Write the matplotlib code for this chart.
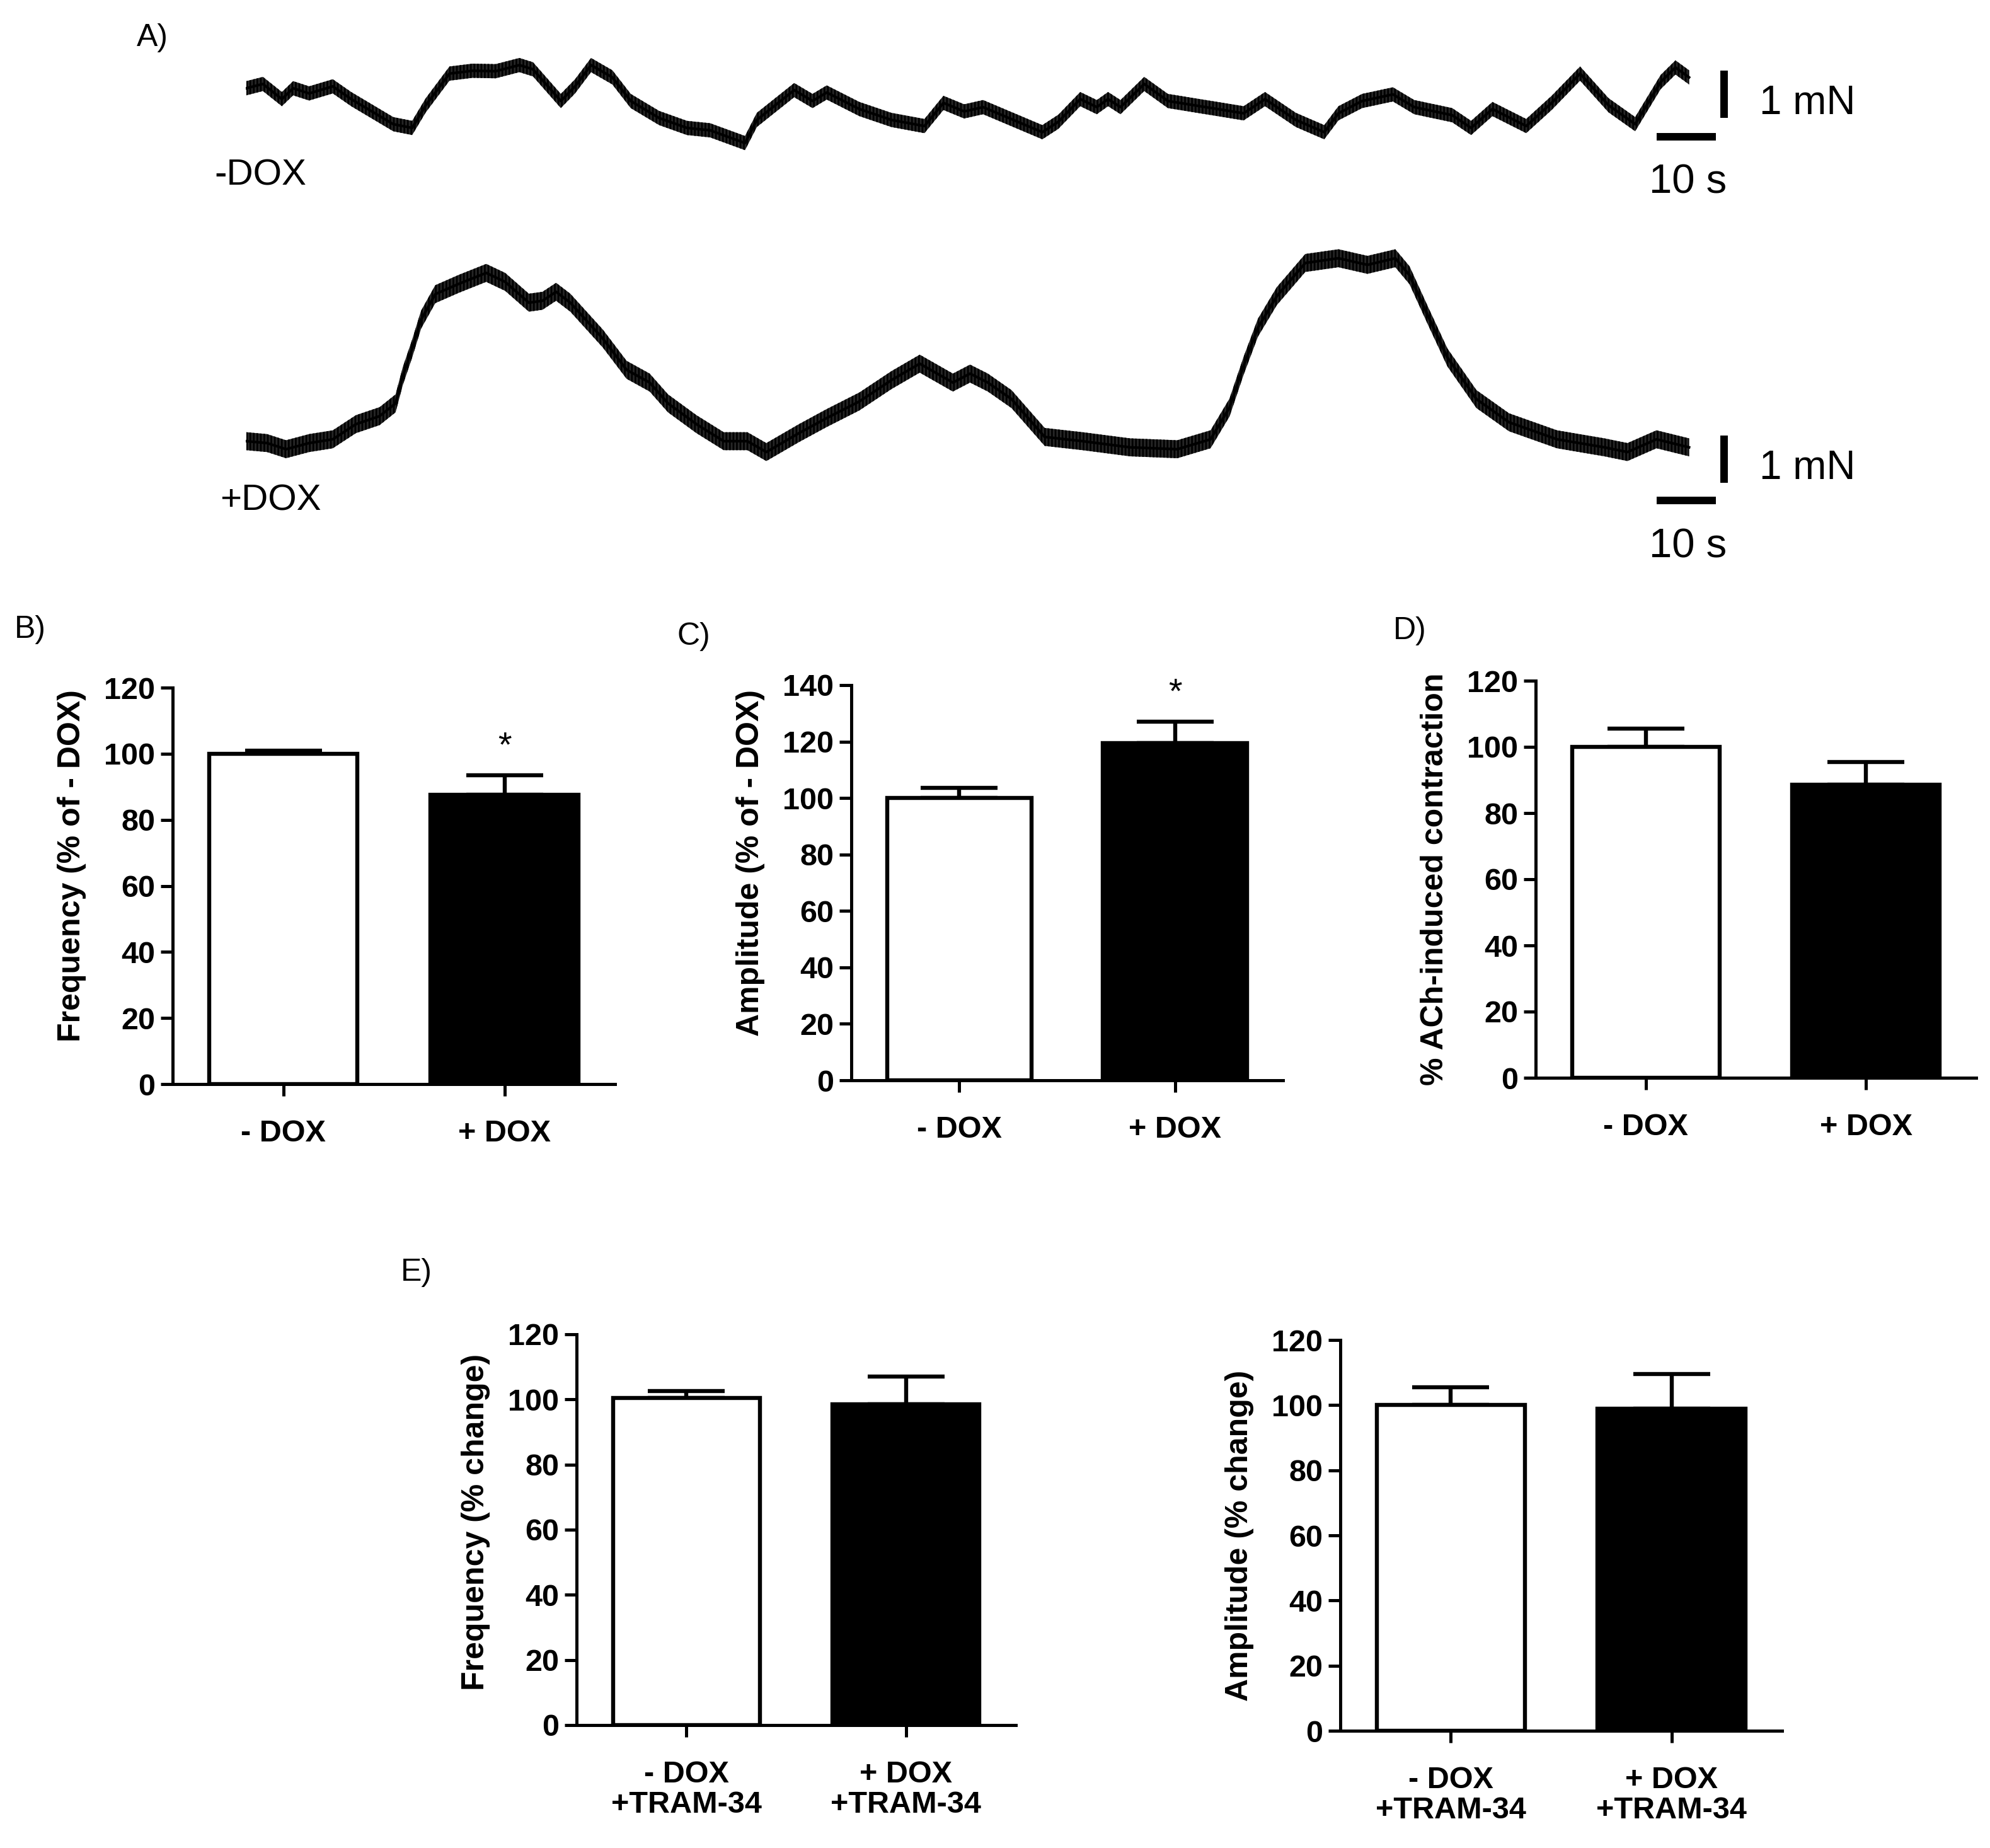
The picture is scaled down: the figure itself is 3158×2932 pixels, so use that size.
import numpy as np
import matplotlib
matplotlib.use("Agg")
import matplotlib.pyplot as plt

plt.rcParams["font.family"] = ["Liberation Sans", "DejaVu Sans"]

# --- panel A: force traces (time in s, force in mN) ---
minus_dox_t = [0.1, 2.9, 6.1, 8.0, 10.7, 14.7, 17.8, 24.9, 28.1, 30.4, 34.4, 38.3, 42.2, 46.2,
               48.5, 53.2, 55.6, 58.3, 61.9, 65.0, 69.8, 74.5, 78.4, 84.3, 86.3, 92.6, 95.7,
               98.1, 103.6, 109.0, 114.6, 117.8, 121.3, 124.5, 134.5, 137.2, 140.9, 143.7,
               145.6, 147.7, 151.7, 155.7, 168.5, 172.1, 177.3, 182.1, 184.5, 188.5, 193.7,
               197.3, 203.7, 206.9, 210.5, 216.2, 220.5, 225.3, 230.1, 234.6, 238.9, 241.4, 243.7]
minus_dox_f = [1.60, 1.69, 1.37, 1.60, 1.49, 1.64, 1.37, 0.84, 0.76, 1.24, 1.91, 1.97, 1.96, 2.09,
               2.00, 1.33, 1.64, 2.09, 1.83, 1.33, 0.97, 0.76, 0.71, 0.44, 0.93, 1.56, 1.33,
               1.51, 1.16, 0.93, 0.80, 1.29, 1.11, 1.20, 0.67, 0.89, 1.37, 1.20,
               1.37, 1.20, 1.69, 1.33, 1.07, 1.37, 0.93, 0.67, 1.07, 1.33, 1.47,
               1.20, 1.03, 0.76, 1.16, 0.80, 1.29, 1.91, 1.24, 0.84, 1.73, 2.04, 1.83]

plus_dox_t = [0.1, 3.6, 6.8, 10.7, 14.7, 18.6, 22.6, 25.3, 26.5, 28.1, 29.6, 32.0, 36.0, 40.6,
              43.8, 47.8, 50.1, 52.4, 54.8, 60.3, 64.3, 68.2, 71.3, 76.1, 80.7, 84.7, 87.9,
              93.4, 98.1, 103.6, 109.0, 113.8, 119.4, 122.3, 125.3, 129.3, 134.9, 141.3,
              149.3, 157.3, 162.9, 166.1, 168.5, 170.9, 174.1, 178.9, 184.5, 189.4, 194.1,
              196.5, 199.7, 202.9, 207.8, 213.3, 221.4, 229.4, 233.3, 238.2, 243.7]
plus_dox_f = [1.60, 1.56, 1.43, 1.56, 1.64, 1.96, 2.13, 2.40, 2.97, 3.56, 4.17, 4.71, 4.93, 5.16,
              4.97, 4.53, 4.57, 4.76, 4.53, 3.77, 3.11, 2.84, 2.40, 1.96, 1.60, 1.60, 1.37,
              1.77, 2.09, 2.44, 2.89, 3.24, 2.84, 3.03, 2.84, 2.49, 1.69, 1.60,
              1.47, 1.43, 1.64, 2.31, 3.20, 4.00, 4.67, 5.37, 5.47, 5.33, 5.47,
              5.11, 4.23, 3.37, 2.49, 2.00, 1.64, 1.47, 1.37, 1.64, 1.47]

# --- bar panels ---
dox_labels = ["- DOX", "+ DOX"]
tram_labels = ["- DOX\n+TRAM-34", "+ DOX\n+TRAM-34"]

freq_mean = [100.0, 87.5]
freq_sem = [1.0, 6.0]
amp_mean = [100.0, 119.5]
amp_sem = [3.5, 7.5]
ach_mean = [100.0, 88.5]
ach_sem = [5.5, 7.0]
tram_freq_mean = [100.5, 98.5]
tram_freq_sem = [2.0, 8.5]
tram_amp_mean = [100.0, 99.0]
tram_amp_sem = [5.5, 10.5]

W, H = 3158, 2932
DPI = 200


def box(left, top, right, bottom):
    return [left / W, 1 - bottom / H, (right - left) / W, (bottom - top) / H]


fig = plt.figure(figsize=(W / DPI, H / DPI), dpi=DPI)


def trace_axes(rect, t, f, half, ylim, bar_lo, bar_y, mn_y, s_y):
    ax = fig.add_axes(rect)
    t = np.asarray(t)
    f = np.asarray(f)
    ax.fill_between(t, f - half, f + half, facecolor="#262626", edgecolor="black",
                    hatch="||||||", linewidth=0)
    ax.plot(t, f, color="black", lw=1.5)
    # scale bars: 1 mN and 10 s
    ax.plot([249.6, 249.6], [bar_lo, bar_lo + 1.0], color="black", lw=4.3,
            solid_capstyle="butt", clip_on=False)
    ax.plot([238.2, 248.2], [bar_y, bar_y], color="black", lw=4.3,
            solid_capstyle="butt", clip_on=False)
    ax.text(255.6, mn_y, "1 mN", fontsize=23, va="center", ha="left")
    ax.text(243.5, s_y, "10 s", fontsize=23.5, va="center", ha="center")
    ax.set_xlim(0, 277.7)
    ax.set_ylim(*ylim)
    ax.axis("off")
    return ax


trace_axes(box(390, 40, 3000, 320), minus_dox_t, minus_dox_f, 0.15,
           (-0.8, 2.933), 0.97, 0.57, 1.28, -0.40)
trace_axes(box(390, 360, 3000, 900), plus_dox_t, plus_dox_f, 0.19,
           (-1.067, 6.133), 0.72, 0.35, 1.03, -0.63)

fig.text(242 / W, 1 - 60 / H, "A)", fontsize=18, va="center", ha="center")
fig.text(340 / W, 1 - 278 / H, "-DOX", fontsize=21, va="center", ha="left")
fig.text(349 / W, 1 - 795 / H, "+DOX", fontsize=21, va="center", ha="left")


def bar_panel(rect, labels, means, sems, ylabel, ymax, star=None, label_y=0.5):
    ax = fig.add_axes(rect)
    x = np.arange(len(means))
    ax.errorbar(x, means, yerr=[np.zeros(len(sems)), sems], fmt="none", ecolor="black",
                elinewidth=2.3, capsize=22, capthick=2.3, zorder=1)
    ax.bar(x, means, width=0.67, color=["white", "black"], edgecolor="black",
           linewidth=2.3, zorder=2)
    if star is not None:
        ax.text(1, star, "*", fontsize=20, ha="center", va="center")
    ax.set_xlim(-0.5, 1.5)
    ax.set_ylim(0, ymax)
    ax.set_yticks(np.arange(0, ymax + 1, 20))
    ax.set_xticks(x)
    ax.set_xticklabels(labels, linespacing=1.1)
    for s in ("top", "right"):
        ax.spines[s].set_visible(False)
    for s in ("left", "bottom"):
        ax.spines[s].set_linewidth(1.8)
    ax.tick_params(axis="y", length=7, width=1.8, pad=3, labelsize=17.5)
    ax.tick_params(axis="x", length=7, width=1.8, pad=13, labelsize=17.5)
    for lab in ax.get_xticklabels() + ax.get_yticklabels():
        lab.set_fontweight("bold")
    ax.set_ylabel(ylabel, fontsize=18, fontweight="bold", labelpad=10)
    # label sits a little above the axis centre in the original
    ax.yaxis.label.set_y(label_y)
    return ax


bar_panel(box(274, 1091, 976, 1720), dox_labels, freq_mean, freq_sem,
          "Frequency (% of - DOX)", 120, star=102, label_y=0.55)
bar_panel(box(1351, 1087, 2036, 1714), dox_labels, amp_mean, amp_sem,
          "Amplitude (% of - DOX)", 140, star=137, label_y=0.55)
bar_panel(box(2437, 1080, 3136, 1710), dox_labels, ach_mean, ach_sem,
          "% ACh-induced contraction", 120)
bar_panel(box(915, 2117, 1612, 2737), tram_labels, tram_freq_mean, tram_freq_sem,
          "Frequency (% change)", 120, label_y=0.52)
bar_panel(box(2127, 2126, 2828, 2746), tram_labels, tram_amp_mean, tram_amp_sem,
          "Amplitude (% change)", 120)

fig.text(48 / W, 1 - 999 / H, "B)", fontsize=18, va="center", ha="center")
fig.text(1101 / W, 1 - 1010 / H, "C)", fontsize=18, va="center", ha="center")
fig.text(2237 / W, 1 - 1001 / H, "D)", fontsize=18, va="center", ha="center")
fig.text(661 / W, 1 - 2019 / H, "E)", fontsize=18, va="center", ha="center")

fig.savefig("out.png", dpi=DPI)
